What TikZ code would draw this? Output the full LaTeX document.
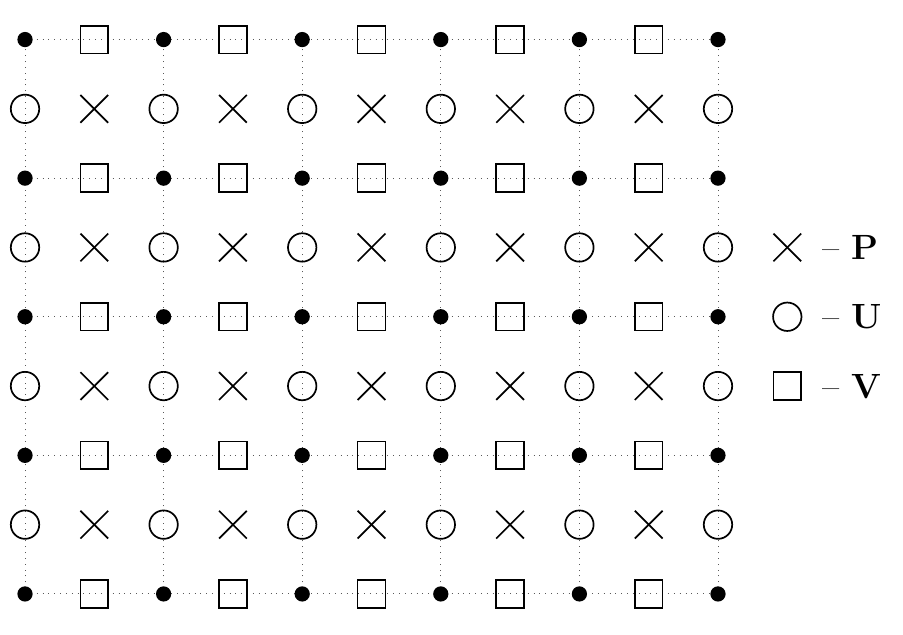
\documentclass[tikz,border=0pt]{standalone}
\usetikzlibrary{positioning}
\tikzset{
  gitter/.style={gray!70!black, dotted, thin},
  marke/.style={black, line width=0.7pt},
}
\begin{document}
\begin{tikzpicture}[x=1cm, y=1cm]
  \useasboundingbox (-0.361,-0.592) rectangle (12.67,8.571);
  % Hilfslinien (gepunktet)
  \foreach \r in {0,2,...,8}{ \draw[gitter] (0, \r) -- (10, \r); }
  \foreach \c in {0,2,...,10}{ \draw[gitter] (\c, 0) -- (\c, 8); }
  % Knoten (volle Punkte)
  \foreach \c in {0,2,...,10}{
    \foreach \r in {0,2,...,8}{ \fill[black] (\c, \r) circle (0.11); }
  }
  % V-Punkte (Quadrate)
  \foreach \c in {1,3,...,9}{
    \foreach \r in {0,2,...,8}{ \draw[marke] (\c-0.2, \r-0.2) rectangle (\c+0.2, \r+0.2); }
  }
  % U-Punkte (Kreise)
  \foreach \c in {0,2,...,10}{
    \foreach \r in {1,3,...,7}{ \draw[marke] (\c, \r) circle (0.205); }
  }
  % P-Punkte (Kreuze)
  \foreach \c in {1,3,...,9}{
    \foreach \r in {1,3,...,7}{
      \draw[marke] (\c-0.2, \r-0.2) -- (\c+0.2, \r+0.2);
      \draw[marke] (\c-0.2, \r+0.2) -- (\c+0.2, \r-0.2);
    }
  }
  % Legende
  \draw[marke] (10.8, 4.8) -- (11.2, 5.2);
  \draw[marke] (10.8, 5.2) -- (11.2, 4.8);
  \draw[marke] (11, 4) circle (0.205);
  \draw[marke] (10.8, 2.8) rectangle (11.2, 3.2);
  \node[anchor=west, inner sep=0pt, font=\Large] (legP) at (11.5, 5) {-- $\mathbf{P}$};
  \node[anchor=west, inner sep=0pt, font=\Large] (legU) at (11.5, 4) {-- $\mathbf{U}$};
  \node[anchor=west, inner sep=0pt, font=\Large] (legV) at (11.5, 3) {-- $\mathbf{V}$};
\end{tikzpicture}
\end{document}
